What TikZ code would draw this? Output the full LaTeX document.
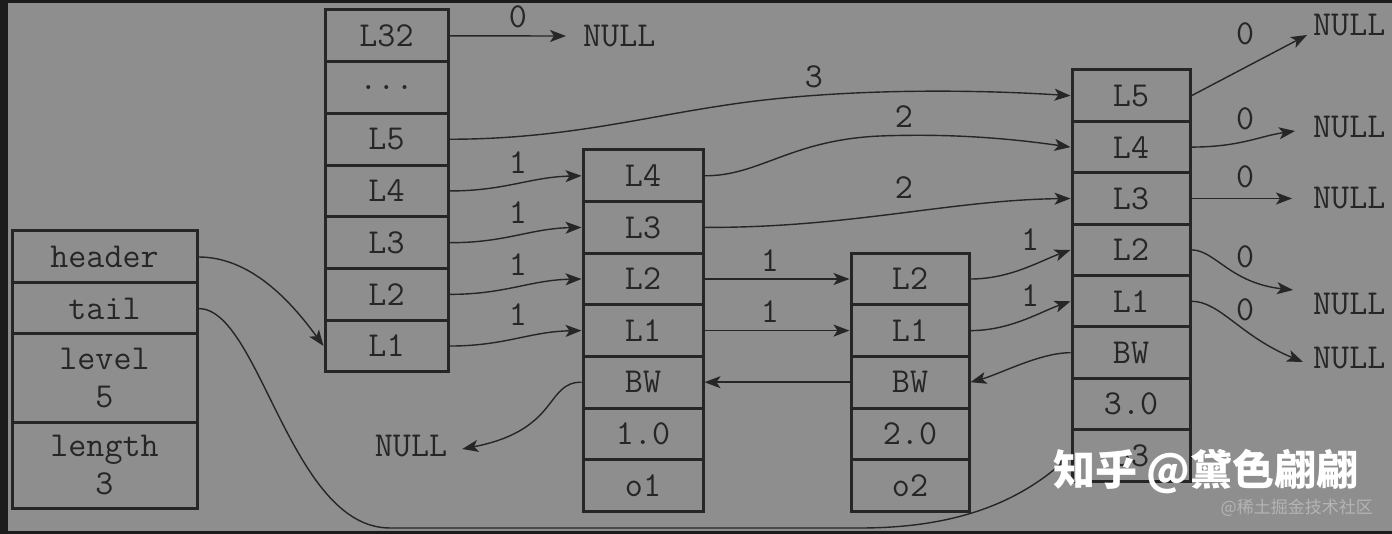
\documentclass[tikz,border=0pt]{standalone}
\usepackage{fontspec}
\newfontfamily\cjk{Noto Sans CJK SC}
\usetikzlibrary{arrows.meta}
\definecolor{bg}{HTML}{8E8E8E}
\definecolor{ink}{HTML}{262626}
\definecolor{framec}{HTML}{1C1C1C}
\definecolor{wmgray}{HTML}{B4B4B4}
\newcommand{\cellfont}{\ttfamily\fontsize{35}{38}\selectfont}
\begin{document}
\begin{tikzpicture}[x=1pt,y=-1pt,
  cell/.style={draw=ink, line width=3pt, inner sep=0pt, text=ink,
    font=\cellfont, minimum height=51.6pt},
  lbl/.style={text=ink, inner sep=0pt, font=\cellfont},
  nul/.style={text=ink, inner sep=0pt, font=\cellfont},
  arr/.style={draw=ink, line width=1.4pt, -{Stealth[length=16pt,width=12pt,inset=4pt]}}]
\useasboundingbox (0,0) rectangle (1392,534);
\clip (0,0) rectangle (1392,534);
\fill[bg] (0,0) rectangle (1392,534);
\fill[framec] (0,0) rectangle (8,534);
\fill[framec] (0,0) rectangle (1392,3);
\fill[framec] (0,531) rectangle (1392,534);

% list structure
\begin{scope}[every node/.style={cell, minimum width=185pt}]
\node[minimum height=52pt] (lhdr) at (104.5,257) {header};
\node[minimum height=51pt] (ltail) at (104.5,308.5) {tail};
\node[minimum height=88pt, align=center] (llev) at (104.5,378) {level\\5};
\node[minimum height=86pt, align=center] (llen) at (104.5,465) {length\\3};
\end{scope}

% header node
\begin{scope}[every node/.style={cell, minimum width=123pt, minimum height=51.7pt}]
\node (hL32) at (386.5,35.85) {L32};
\node (hDots) at (386.5,87.55) {...};
\node (hL5) at (386.5,139.25) {L5};
\node (hL4) at (386.5,190.95) {L4};
\node (hL3) at (386.5,242.65) {L3};
\node (hL2) at (386.5,294.35) {L2};
\node (hL1) at (386.5,346.05) {L1};
\end{scope}

% node 1
\begin{scope}[every node/.style={cell, minimum width=120pt}]
\node (n1L4) at (643,175.8) {L4};
\node (n1L3) at (643,227.4) {L3};
\node (n1L2) at (643,279) {L2};
\node (n1L1) at (643,330.6) {L1};
\node (n1BW) at (643,382.2) {BW};
\node (n1sc) at (643,433.8) {1.0};
\node (n1ob) at (643,485.4) {o1};
\end{scope}

% node 2
\begin{scope}[every node/.style={cell, minimum width=118pt}]
\node (n2L2) at (910,279) {L2};
\node (n2L1) at (910,330.6) {L1};
\node (n2BW) at (910,382.2) {BW};
\node (n2sc) at (910,433.8) {2.0};
\node (n2ob) at (910,485.4) {o2};
\end{scope}

% node 3
\begin{scope}[every node/.style={cell, minimum width=118pt, minimum height=51.4pt}]
\node (n3L5) at (1131,95.7) {L5};
\node (n3L4) at (1131,147.1) {L4};
\node (n3L3) at (1131,198.5) {L3};
\node (n3L2) at (1131,249.9) {L2};
\node (n3L1) at (1131,301.3) {L1};
\node (n3BW) at (1131,352.7) {BW};
\node (n3sc) at (1131,404.1) {3.0};
\node (n3ob) at (1131,455.5) {o3};
\end{scope}

% NULL targets
\node[nul, anchor=west] (nA) at (583,36) {NULL};
\node[nul] (nB) at (411,446) {NULL};
\node[nul, anchor=west] (nC) at (1313,25) {NULL};
\node[nul, anchor=west] (nD) at (1313,127) {NULL};
\node[nul, anchor=west] (nE) at (1313,198.5) {NULL};
\node[nul, anchor=west] (nF) at (1313,304) {NULL};
\node[nul, anchor=west] (nG) at (1313,358) {NULL};

% connectors
\draw[arr] (hL32.east) -- ([xshift=-17pt]nA.west);
\draw[arr] (hL5.east) .. controls (560,139.25) and (640,118) .. (720,106)
  .. controls (820,90) and (950,88) .. (n3L5.west);
\draw[arr] (n1L4.east) .. controls (760,176) and (790,140) .. (880,136)
  .. controls (960,133) and (1020,140) .. (n3L4.west);
\draw[arr] (n1L3.east) .. controls (850,228) and (950,200) .. (n3L3.west);
\draw[arr] (hL4.east) .. controls (505,191) and (530,177) .. (n1L4.west);
\draw[arr] (hL3.east) .. controls (505,243) and (530,228.5) .. (n1L3.west);
\draw[arr] (hL2.east) .. controls (505,294.5) and (530,280) .. (n1L2.west);
\draw[arr] (hL1.east) .. controls (505,346) and (530,331.5) .. (n1L1.west);
\draw[arr] (n1L2.east) -- (n2L2.west);
\draw[arr] (n1L1.east) -- (n2L1.west);
\draw[arr] (n2L2.east) .. controls (1010,279) and (1040,261) .. (n3L2.west);
\draw[arr] (n2L1.east) .. controls (1010,330.6) and (1040,312) .. (n3L1.west);
\draw[arr] (n3BW.west) .. controls (1040,352.7) and (1000,374) .. (n2BW.east);
\draw[arr] (n2BW.west) -- (n1BW.east);
\draw[arr] (n1BW.west) .. controls (545,382) and (560,430) .. ([xshift=15pt,yshift=-3pt]nB.east);
\draw[arr] (lhdr.east) .. controls (250,257) and (290,300) .. (hL1.west);
\draw[arr] (ltail.east) .. controls (260,308.5) and (290,528) .. (390,528) -- (860,528)
  .. controls (960,528) and (1020,500) .. (n3ob.west);
\draw[arr] (n3L5.east) -- ([xshift=-6pt,yshift=-10pt]nC.west);
\draw[arr] (n3L4.east) .. controls (1240,147) and (1260,136) .. ([xshift=-18pt,yshift=-4pt]nD.west);
\draw[arr] (n3L3.east) -- ([xshift=-21pt]nE.west);
\draw[arr] (n3L2.east) .. controls (1215,250) and (1230,283) .. ([xshift=-20pt,yshift=14pt]nF.west);
\draw[arr] (n3L1.east) .. controls (1220,301.3) and (1240,336) .. ([xshift=-10pt,yshift=-4pt]nG.west);

% weights
\node[lbl] (w0) at (518,17) {0};
\node[lbl] (w3) at (814,77) {3};
\node[lbl] (w2a) at (904,117) {2};
\node[lbl] (w2b) at (904,188) {2};
\node[lbl] (w1a) at (518,163) {1};
\node[lbl] (w1b) at (518,213) {1};
\node[lbl] (w1c) at (518,265) {1};
\node[lbl] (w1d) at (518,315) {1};
\node[lbl] (w1e) at (770,261) {1};
\node[lbl] (w1f) at (770,312) {1};
\node[lbl] (w1g) at (1030,240) {1};
\node[lbl] (w1h) at (1030,296) {1};
\node[lbl] (z1) at (1245,34) {0};
\node[lbl] (z2) at (1245,119) {0};
\node[lbl] (z3) at (1245,177) {0};
\node[lbl] (z4) at (1245,257) {0};
\node[lbl] (z5) at (1245,310) {0};

% watermarks
\node[anchor=west, inner sep=0pt, text=white, font=\cjk\bfseries\fontsize{42}{42}\selectfont] (wm) at (1053,472) {知乎 @黛色翩翩};
\node[anchor=east, inner sep=0pt, text=wmgray, font=\cjk\fontsize{17}{17}\selectfont] (wm2) at (1373,508) {@稀土掘金技术社区};
\end{tikzpicture}
\end{document}
